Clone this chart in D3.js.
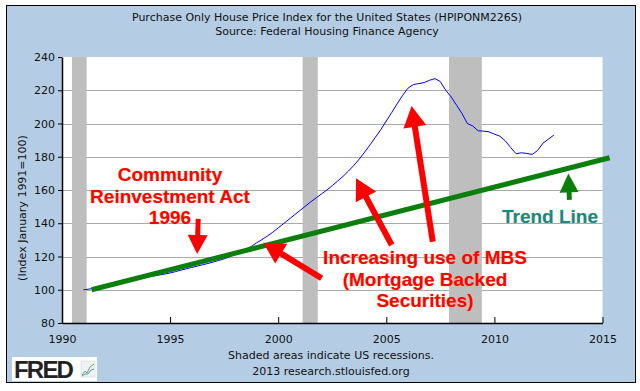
<!DOCTYPE html>
<html>
<head>
<meta charset="utf-8">
<script src="https://d3js.org/d3.v7.min.js"></script>
<style>
  body { margin: 0; background: #ffffff; }
  svg text { font-family: "DejaVu Sans", Verdana, sans-serif; }
</style>
</head>
<body>
<div id="chart"></div>
<script>
//Chart data

var hpiYears = [1991, 1992, 1993, 1994, 1995, 1996, 1997, 1998, 1999, 2000, 2001,
                2002, 2003, 2004, 2005, 2006, 2007, 2008, 2009, 2010, 2011, 2012];

//Quarterly index values (Q1..Q4)
var hpiQuarterly = [
    [100.0, 100.4, 100.9, 101.5],
    [102.3, 102.9, 103.6, 104.3],
    [104.9, 105.6, 106.4, 107.1],
    [107.8, 108.3, 108.9, 109.4],
    [110.1, 110.9, 111.8, 112.6],
    [113.4, 114.2, 115.0, 115.8],
    [116.7, 117.6, 118.6, 119.8],
    [121.2, 122.8, 124.4, 126.0],
    [128.2, 130.2, 132.3, 134.6],
    [137.2, 139.8, 142.4, 145.0],
    [147.6, 150.2, 152.8, 155.2],
    [157.6, 160.0, 162.6, 165.4],
    [168.2, 171.4, 174.8, 178.6],
    [182.8, 187.2, 191.8, 196.4],
    [201.5, 206.6, 211.8, 216.8],
    [221.2, 223.4, 224.0, 224.6],
    [226.0, 227.0, 225.2, 220.0],
    [216.0, 211.0, 206.0, 200.0],
    [198.5, 195.6, 195.4, 195.0],
    [193.6, 192.4, 189.6, 185.6],
    [181.8, 182.4, 182.0, 181.4],
    [183.8, 188.2, 190.6, 193.0]
];

var recessions = [[1990.46, 1991.14], [2001.13, 2001.83], [2007.9, 2009.42]];

var trendLine = [[1991.37, 100], [2015.33, 179.4]];

var xTicks = [1990, 1995, 2000, 2005, 2010, 2015];
var yTicks = [80, 100, 120, 140, 160, 180, 200, 220, 240];
var gridValues = [100, 120, 140, 160, 180, 200, 220];

var titleLines = ["Purchase Only House Price Index for the United States (HPIPONM226S)",
                  "Source: Federal Housing Finance Agency"];
var yLabel = "(Index January 1991=100)";
var footLines = ["Shaded areas indicate US recessions.", "2013 research.stlouisfed.org"];

var craLines = ["Community", "Reinvestment Act", "1996"];
var mbsLines = ["Increasing use of MBS", "(Mortgage Backed", "Securities)"];
var trendLabel = "Trend Line";

//Arrows as [from, to] in data units (year, index)
var redArrows = [
    [[1996.30, 142.6], [1996.25, 121.5]],
    [[2002.01, 106.9], [1999.31, 128.3]],
    [[2005.25, 126.9], [2003.60, 167.0]],
    [[2007.15, 128.9], [2006.17, 210.5]]
];
var greenArrow = [[2013.47, 154.0], [2013.42, 170.0]];

//Build flat series
var hpi = [];
hpiYears.forEach(function(y, i) {
    hpiQuarterly[i].forEach(function(v, q) { hpi.push([y + q / 4, v]); });
});

var W = 640, H = 391;
var svg = d3.select("#chart").append("svg").attr("width", W).attr("height", H);

//Outer panel
svg.append("rect").attr("x", 6.5).attr("y", 5.5).attr("width", 629).attr("height", 377)
    .attr("fill", "#b4cde4").attr("stroke", "#000").attr("stroke-width", 1);

var x = d3.scaleLinear().domain([1990, 2015]).range([62, 602.5]);
var y = d3.scaleLinear().domain([80, 240]).range([323, 57]);

//Plot background
svg.append("rect").attr("x", x(1990)).attr("y", y(240))
    .attr("width", x(2015) - x(1990)).attr("height", y(80) - y(240)).attr("fill", "#fff");

//Grid
svg.selectAll("line.grid").data(gridValues).enter().append("line")
    .attr("class", "grid")
    .attr("x1", x(1990)).attr("x2", x(2015))
    .attr("y1", function(d) { return Math.round(y(d)) + 0.5; })
    .attr("y2", function(d) { return Math.round(y(d)) + 0.5; })
    .attr("stroke", "#aaaaaa").attr("stroke-width", 1);

//Recession bars
svg.selectAll("rect.rec").data(recessions).enter().append("rect")
    .attr("class", "rec")
    .attr("x", function(d) { return x(d[0]); })
    .attr("width", function(d) { return x(d[1]) - x(d[0]); })
    .attr("y", y(240)).attr("height", y(80) - y(240))
    .attr("fill", "#bebebe");

//Axes
var xAxis = d3.axisBottom(x).tickValues(xTicks).tickFormat(d3.format("d")).tickSizeInner(-6).tickSizeOuter(0).tickPadding(12);
var gx = svg.append("g").attr("transform", "translate(0," + y(80) + ")").call(xAxis);
gx.select(".domain").attr("stroke", "#000").attr("stroke-width", 1.5);
gx.selectAll(".tick line").attr("stroke", "#000");
gx.selectAll("text").attr("font-size", 11).attr("fill", "#111")
    .attr("font-family", "DejaVu Sans, Verdana, sans-serif");

var yAxis = d3.axisLeft(y).tickValues(yTicks).tickSizeInner(4).tickSizeOuter(0).tickPadding(3);
var gy = svg.append("g").attr("transform", "translate(" + x(1990) + ",0)").call(yAxis);
gy.select(".domain").attr("stroke", "#000").attr("stroke-width", 1.5);
gy.selectAll(".tick line").attr("stroke", "#000");
gy.selectAll("text").attr("font-size", 11).attr("fill", "#111")
    .attr("font-family", "DejaVu Sans, Verdana, sans-serif");

//HPI line
var line = d3.line().x(function(d) { return x(d[0]); }).y(function(d) { return y(d[1]); });
svg.append("path").datum([[1990.99, 100]].concat(hpi)).attr("d", line)
    .attr("fill", "none").attr("stroke", "#0000ff").attr("stroke-width", 1);

//Trend line
svg.append("path").datum(trendLine).attr("d", line)
    .attr("fill", "none").attr("stroke", "#0b7f0b").attr("stroke-width", 5);

//Arrow helper: polygon with shaft and head, drawn through the scales
var drawArrow = function(a, shaftW, headW, headL, color)
{
    let x0 = x(a[0][0]), y0 = y(a[0][1]), x1 = x(a[1][0]), y1 = y(a[1][1]);
    let len = Math.hypot(x1 - x0, y1 - y0);
    let ux = (x1 - x0) / len, uy = (y1 - y0) / len;
    let nx = -uy, ny = ux;
    let bx = x1 - ux * headL, by = y1 - uy * headL;
    let pts = [
        [x0 + nx * shaftW / 2, y0 + ny * shaftW / 2],
        [bx + nx * shaftW / 2, by + ny * shaftW / 2],
        [bx + nx * headW / 2, by + ny * headW / 2],
        [x1, y1],
        [bx - nx * headW / 2, by - ny * headW / 2],
        [bx - nx * shaftW / 2, by - ny * shaftW / 2],
        [x0 - nx * shaftW / 2, y0 - ny * shaftW / 2]
    ];
    svg.append("polygon").attr("points", pts.map(function(p) { return p.join(","); }).join(" "))
        .attr("fill", color);
}

drawArrow(redArrows[0], 5, 20, 19, "#ff0000");
redArrows.slice(1).forEach(function(a) { drawArrow(a, 6, 23, 21, "#ff0000"); });
drawArrow(greenArrow, 5, 19, 19, "#0b7f0b");

//Annotation text
var addText = function(lines, cx, baseline, step, color, size)
{
    lines.forEach(function(t, i) {
        svg.append("text").attr("x", cx).attr("y", baseline + i * step)
            .attr("text-anchor", "middle").attr("font-size", size).attr("font-weight", "bold")
            .style("font-family", "'Liberation Sans', Arial, sans-serif")
            .attr("fill", color).attr("stroke", "#f3b24a").attr("stroke-width", 0.6)
            .attr("stroke-opacity", 0.7).attr("paint-order", "stroke")
            .text(t);
    });
}

addText(craLines, 170, 181, 21.5, "#ff0000", 19);
addText(mbsLines, 425, 264, 21.5, "#ff0000", 19);
addText([trendLabel], 550, 223, 0, "#138a8a", 19);

//Titles
svg.selectAll("text.title").data(titleLines).enter().append("text")
    .attr("class", "title").attr("x", 327).attr("y", function(d, i) { return 21 + i * 14; })
    .attr("text-anchor", "middle").attr("font-size", 11).attr("fill", "#111")
    .text(function(d) { return d; });

svg.append("text").attr("transform", "translate(26,208) rotate(-90)")
    .attr("text-anchor", "middle").attr("font-size", 11).attr("fill", "#111").text(yLabel);

svg.selectAll("text.foot").data(footLines).enter().append("text")
    .attr("class", "foot").attr("x", 331).attr("y", function(d, i) { return 359 + i * 16; })
    .attr("text-anchor", "middle").attr("font-size", 11).attr("fill", "#111")
    .text(function(d) { return d; });

//FRED logo
var logo = svg.append("g").attr("transform", "translate(12,357)");
logo.append("rect").attr("width", 85).attr("height", 24).attr("fill", "#fff");
logo.append("text").attr("x", 2).attr("y", 21).attr("font-size", 24).attr("font-weight", "bold")
    .style("font-family", "'Liberation Sans', Arial, sans-serif").attr("letter-spacing", -1.8)
    .attr("fill", "#222").text("FRED");
logo.append("rect").attr("x", 69).attr("y", 4).attr("width", 14).attr("height", 16)
    .attr("fill", "#eef2f4").attr("stroke", "#c8d0d4").attr("stroke-width", 0.5);
logo.append("polyline").attr("points", "70,18 73,14 75,16 78,10 82,7")
    .attr("fill", "none").attr("stroke", "#6aa84f").attr("stroke-width", 1);
logo.append("polyline").attr("points", "70,19 73,17 76,17 79,13 82,12")
    .attr("fill", "none").attr("stroke", "#5b8fc9").attr("stroke-width", 1);
</script>
</body>
</html>
